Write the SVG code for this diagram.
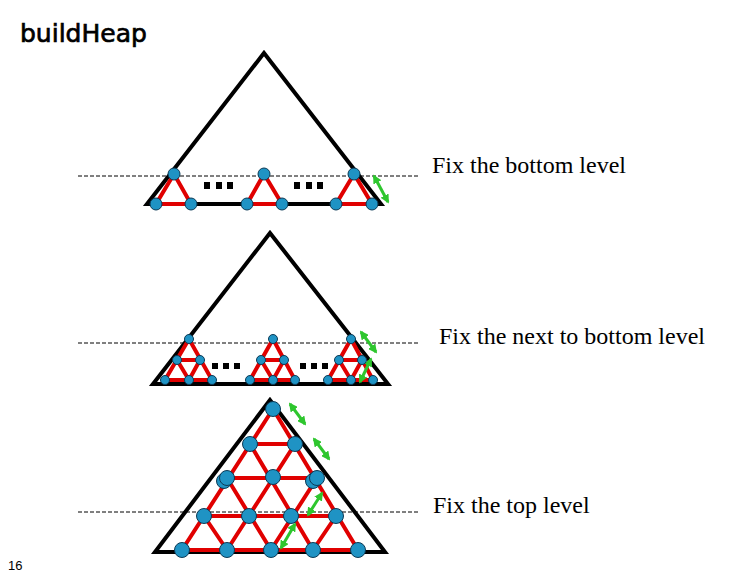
<svg xmlns="http://www.w3.org/2000/svg" width="756" height="576" viewBox="0 0 756 576">
<style>
.tri{fill:none;stroke:#000;stroke-width:4;stroke-linejoin:miter}
.dash{stroke:#000;stroke-width:1;stroke-dasharray:4 2}
.red{stroke:#e00000;stroke-width:4;stroke-linecap:round;fill:none}
.nd{fill:#1f93c4;stroke:#0b3a55;stroke-width:1}
.grn{stroke:#2ec62e;stroke-width:3;marker-start:url(#ah);marker-end:url(#ah)}
.lbl{font-family:"Liberation Serif",serif;font-size:24px;fill:#000}
.dot{fill:#000}
</style>
<defs>
<marker id="ah" viewBox="0 0 10 10" refX="8" refY="5" markerWidth="3" markerHeight="3" orient="auto-start-reverse" markerUnits="strokeWidth">
<path d="M0,0 L10,5 L0,10 z" fill="#2ec62e"/>
</marker>
</defs>
<rect width="756" height="576" fill="#fff"/>
<text x="20" y="42" font-family="DejaVu Sans, sans-serif" font-size="25" fill="#000" stroke="#000" stroke-width="0.7">buildHeap</text>
<text x="8" y="570" font-family="Liberation Sans, sans-serif" font-size="13" fill="#000">16</text>

<!-- outlines and dashed lines -->
<g id="outlines">
<polygon class="tri" points="264,53 147,204 381,204"/>
<polygon class="tri" points="270,233 153,384 388,384"/>
<polygon class="tri" points="270,400 155,552 385,552"/>
<line class="dash" x1="78" y1="176" x2="420" y2="176"/>
<line class="dash" x1="78" y1="343" x2="418" y2="343"/>
<line class="dash" x1="78" y1="512" x2="418" y2="512"/>
</g>
<g id="ellipses">
<rect class="dot" x="204" y="182" width="6" height="7"/><rect class="dot" x="216" y="182" width="6" height="7"/><rect class="dot" x="227" y="182" width="6" height="7"/>
<rect class="dot" x="294" y="182" width="6" height="7"/><rect class="dot" x="306" y="182" width="6" height="7"/><rect class="dot" x="317" y="182" width="6" height="7"/>
<rect class="dot" x="212" y="363" width="6" height="6"/><rect class="dot" x="223" y="363" width="6" height="6"/><rect class="dot" x="234" y="363" width="6" height="6"/>
<rect class="dot" x="300" y="363" width="6" height="6"/><rect class="dot" x="311" y="363" width="6" height="6"/><rect class="dot" x="322" y="363" width="6" height="6"/>
</g>

<text class="lbl" x="432" y="173">Fix the bottom level</text>
<text class="lbl" x="439" y="344">Fix the next to bottom level</text>
<text class="lbl" x="433" y="513">Fix the top level</text>

<!-- connectors -->
<g id="connectors">
<!-- level 1 -->
<path class="red" d="M174,174 L156,204 L191,204 Z M264,174 L247,204 L282,204 Z M354,174 L336,204 L372,204 Z"/>
<!-- level 2 -->
<path class="red" d="M189,339 L165,380 L212,380 Z M177,360 L200,360 M177,360 L189,380 L200,360"/>
<path class="red" d="M273,339 L250,380 L295,380 Z M261,360 L284,360 M261,360 L273,380 L284,360"/>
<path class="red" d="M351,339 L328,380 L373,380 Z M339,360 L362,360 M339,360 L351,380 L362,360"/>
<!-- level 3 -->
<path class="red" d="M273,409 L182,550 L358,550 Z M250,444 L295,444 M227,478 L317,478 M204,516 L336,516
M250,444 L313,550 M227,478 L271,550 M204,516 L227,550
M295,444 L227,550 M317,478 L271,550 M336,516 L313,550"/>
<!-- green swaps -->
<line class="grn" x1="374" y1="176" x2="388" y2="202"/>
<line class="grn" x1="361" y1="332" x2="376" y2="352"/>
<line class="grn" x1="371" y1="359" x2="360" y2="382"/>
<line class="grn" x1="290" y1="404" x2="305" y2="424"/>
<line class="grn" x1="314" y1="439" x2="329" y2="459"/>
<line class="grn" x1="322" y1="493" x2="308" y2="515"/>
<line class="grn" x1="295" y1="524" x2="281" y2="548"/>
</g>

<!-- level 1 nodes -->
<g id="L1-a"><circle class="nd" cx="174" cy="174" r="6"/></g>
<g id="L1-b"><circle class="nd" cx="156" cy="204" r="6"/></g>
<g id="L1-c"><circle class="nd" cx="191" cy="204" r="6"/></g>
<g id="L1-d"><circle class="nd" cx="264" cy="174" r="6"/></g>
<g id="L1-e"><circle class="nd" cx="247" cy="204" r="6"/></g>
<g id="L1-f"><circle class="nd" cx="282" cy="204" r="6"/></g>
<g id="L1-g"><circle class="nd" cx="354" cy="174" r="6"/></g>
<g id="L1-h"><circle class="nd" cx="336" cy="204" r="6"/></g>
<g id="L1-i"><circle class="nd" cx="372" cy="204" r="6"/></g>

<!-- level 2 nodes -->
<g id="L2-a1"><circle class="nd" cx="189" cy="339" r="4.5"/></g>
<g id="L2-a2"><circle class="nd" cx="177" cy="360" r="4.5"/></g>
<g id="L2-a3"><circle class="nd" cx="200" cy="360" r="4.5"/></g>
<g id="L2-a4"><circle class="nd" cx="165" cy="380" r="4.5"/></g>
<g id="L2-a5"><circle class="nd" cx="189" cy="380" r="4.5"/></g>
<g id="L2-a6"><circle class="nd" cx="212" cy="380" r="4.5"/></g>
<g id="L2-b1"><circle class="nd" cx="273" cy="339" r="4.5"/></g>
<g id="L2-b2"><circle class="nd" cx="261" cy="360" r="4.5"/></g>
<g id="L2-b3"><circle class="nd" cx="284" cy="360" r="4.5"/></g>
<g id="L2-b4"><circle class="nd" cx="250" cy="380" r="4.5"/></g>
<g id="L2-b5"><circle class="nd" cx="273" cy="380" r="4.5"/></g>
<g id="L2-b6"><circle class="nd" cx="295" cy="380" r="4.5"/></g>
<g id="L2-c1"><circle class="nd" cx="351" cy="339" r="4.5"/></g>
<g id="L2-c2"><circle class="nd" cx="339" cy="360" r="4.5"/></g>
<g id="L2-c3"><circle class="nd" cx="362" cy="360" r="4.5"/></g>
<g id="L2-c4"><circle class="nd" cx="328" cy="380" r="4.5"/></g>
<g id="L2-c5"><circle class="nd" cx="351" cy="380" r="4.5"/></g>
<g id="L2-c6"><circle class="nd" cx="373" cy="380" r="4.5"/></g>

<!-- level 3 nodes -->
<g id="L3-r0"><circle class="nd" cx="273" cy="409" r="7.5"/></g>
<g id="L3-r1a"><circle class="nd" cx="250" cy="444" r="7.5"/></g>
<g id="L3-r1b"><circle class="nd" cx="295" cy="444" r="7.5"/></g>
<g id="L3-r2a"><circle class="nd" cx="224" cy="481" r="7.5"/><circle class="nd" cx="227" cy="478" r="7.5"/></g>
<g id="L3-r2b"><circle class="nd" cx="273" cy="477" r="7.5"/></g>
<g id="L3-r2c"><circle class="nd" cx="313" cy="481" r="7.5"/><circle class="nd" cx="317" cy="478" r="7.5"/></g>
<g id="L3-r3a"><circle class="nd" cx="204" cy="516" r="7.5"/></g>
<g id="L3-r3b"><circle class="nd" cx="249" cy="516" r="7.5"/></g>
<g id="L3-r3c"><circle class="nd" cx="291" cy="516" r="7.5"/></g>
<g id="L3-r3d"><circle class="nd" cx="336" cy="516" r="7.5"/></g>
<g id="L3-r4a"><circle class="nd" cx="182" cy="550" r="7.5"/></g>
<g id="L3-r4b"><circle class="nd" cx="227" cy="550" r="7.5"/></g>
<g id="L3-r4c"><circle class="nd" cx="271" cy="550" r="7.5"/></g>
<g id="L3-r4d"><circle class="nd" cx="313" cy="550" r="7.5"/></g>
<g id="L3-r4e"><circle class="nd" cx="358" cy="550" r="7.5"/></g>
</svg>
